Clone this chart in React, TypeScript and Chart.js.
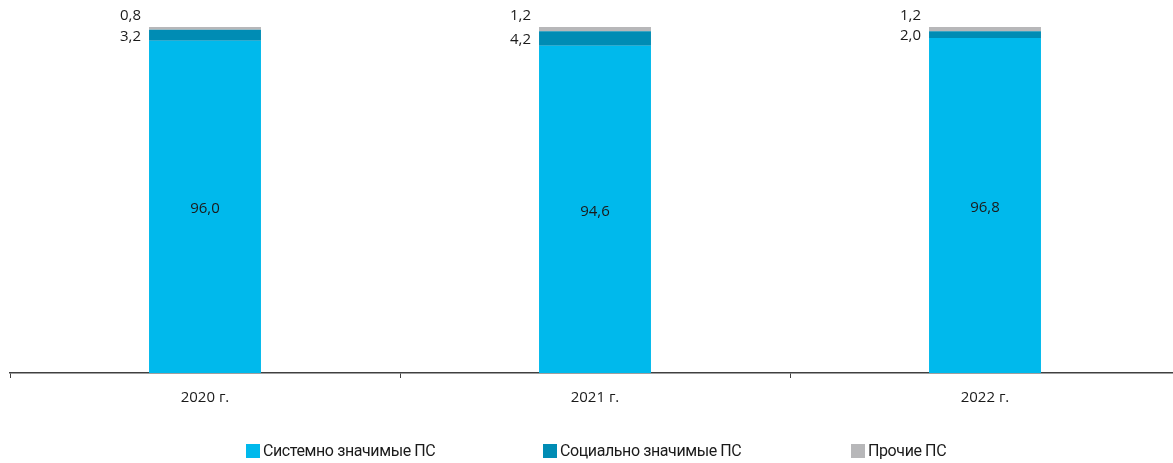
import React, { useEffect, useRef } from "react";
import { Chart, registerables } from "chart.js";

Chart.register(...registerables);

const categories = ["2020 г.", "2021 г.", "2022 г."];
const systemic = [96.0, 94.6, 96.8];
const social = [3.2, 4.2, 2.0];
const other = [0.8, 1.2, 1.2];
const seriesNames = ["Системно значимые ПС", "Социально значимые ПС", "Прочие ПС"];
const colors = ["#00B9EC", "#008CB4", "#B7B7B9"];

const fmt = (v: number) => v.toFixed(1).replace(".", ",");

const labelPlugin = {
  id: "valueLabels",
  afterDatasetsDraw(chart: any) {
    const ctx = chart.ctx;
    ctx.save();
    ctx.font = "15px 'Open Sans'";
    ctx.fillStyle = "#1a1a1a";
    ctx.textBaseline = "middle";
    const m0 = chart.getDatasetMeta(0);
    const m1 = chart.getDatasetMeta(1);
    const m2 = chart.getDatasetMeta(2);
    m0.data.forEach((bar: any, i: number) => {
      ctx.textAlign = "center";
      ctx.fillText(fmt(systemic[i]), bar.x, (bar.y + bar.base) / 2 + 2);
      const b1 = m1.data[i];
      const b2 = m2.data[i];
      const left = bar.x - bar.width / 2 - 8;
      ctx.textAlign = "right";
      ctx.fillText(fmt(social[i]), left, (b1.y + b1.base) / 2 + 1);
      ctx.fillText(fmt(other[i]), left, b2.y - 11);
    });
    ctx.restore();
  },
};

export default function App() {
  const ref = useRef<HTMLCanvasElement | null>(null);
  useEffect(() => {
    if (!ref.current) return;
    const chart = new Chart(ref.current, {
      type: "bar",
      data: {
        labels: categories,
        datasets: [
          { label: seriesNames[0], data: systemic, backgroundColor: colors[0] },
          { label: seriesNames[1], data: social, backgroundColor: colors[1] },
          { label: seriesNames[2], data: other, backgroundColor: colors[2] },
        ],
      },
      options: {
        responsive: false,
        animation: false,
        layout: { padding: { left: 10, right: 10, top: 27, bottom: 50 } },
        datasets: { bar: { barPercentage: 0.287, categoryPercentage: 1 } },
        plugins: { legend: { display: false }, tooltip: { enabled: false } },
        scales: {
          x: {
            stacked: true,
            offset: true,
            grid: {
              display: true,
              offset: true,
              drawOnChartArea: false,
              tickLength: 5,
              color: "#404040",
              lineWidth: 1,
            },
            border: { display: true, color: "#404040", width: 1.5 },
            ticks: {
              color: "#1a1a1a",
              font: { family: "'Open Sans'", size: 15 },
              padding: 11,
            },
            afterFit: (scale: any) => {
              scale.height = 40;
            },
          },
          y: { stacked: true, display: false, min: 0, max: 100 },
        },
      },
      plugins: [labelPlugin],
    });
    return () => chart.destroy();
  }, []);

  const legendLefts = [246, 543, 851];
  return (
    <div
      style={{
        position: "fixed",
        left: 0,
        top: 0,
        width: 1173,
        height: 463,
        overflow: "hidden",
        background: "#fff",
      }}
    >
      <canvas ref={ref} width={1190} height={463} style={{ position: "absolute", left: 0, top: 0 }} />
      {seriesNames.map((n, i) => (
        <div
          key={n}
          style={{
            position: "absolute",
            left: legendLefts[i],
            top: 443,
            display: "flex",
            alignItems: "center",
            fontFamily: "Roboto, sans-serif",
            fontSize: 16,
            color: "#1a1a1a",
            whiteSpace: "nowrap",
            lineHeight: "15px",
          }}
        >
          <span
            style={{
              display: "inline-block",
              width: 14,
              height: 14,
              background: colors[i],
              marginRight: 3,
            }}
          />
          <span style={{ letterSpacing: -0.4 }}>{n}</span>
        </div>
      ))}
    </div>
  );
}
